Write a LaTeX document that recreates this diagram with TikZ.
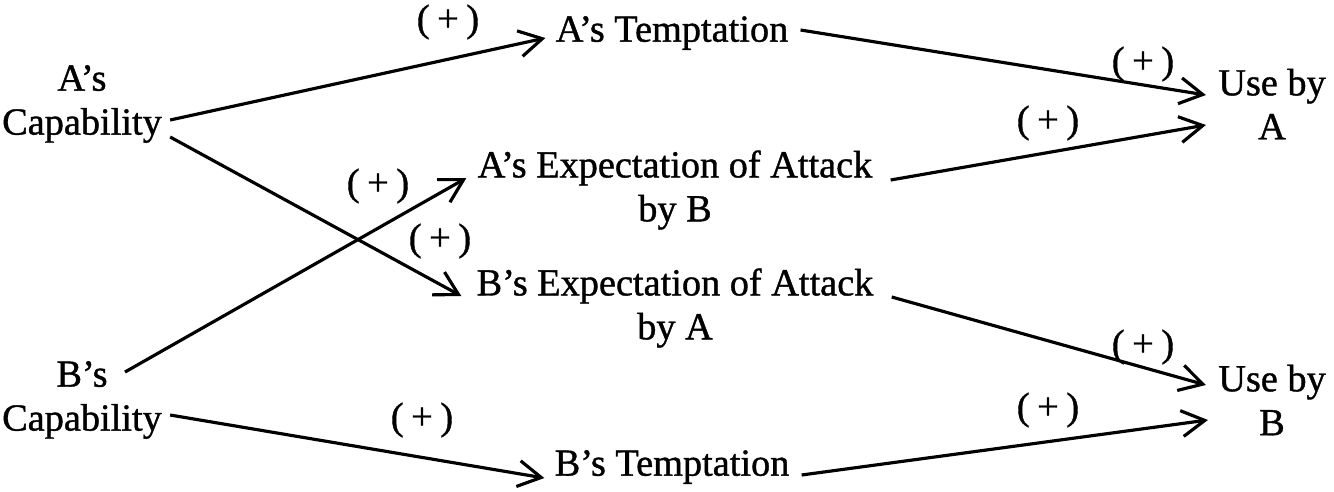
\documentclass[tikz,border=0pt]{standalone}
\usepackage{fontspec}
\setmainfont{Liberation Serif}[FakeBold=1]
\usepackage{tikz}
\usetikzlibrary{arrows.meta,calc}

\begin{document}
\begin{tikzpicture}[x=0.02cm, y=-0.02cm,
            >={Straight Barb[length=4.6mm, width=5.2mm]},
            VAR/.style={rectangle, draw=none, inner sep=0pt, align=center, font=\fontsize{21.8}{25}\selectfont},
            SIGN/.style={rectangle, draw=none, inner sep=0pt, font=\fontsize{21.8}{25}\selectfont},
            LINK/.style={->, line width=1.8pt},
        ]
        \useasboundingbox (0,0) rectangle (1334,491);

        \node[VAR]    (A_Cap)    at (82,104)   {A's\\Capability};
        \node[VAR]    (B_Cap)    at (82,400)   {B's\\Capability};
        \node[VAR]    (A_Temp)   at (672,33)   {A's Temptation};
        \node[VAR]    (A_Exp)    at (675,190)  {A's Expectation of Attack\\by B};
        \node[VAR]    (B_Exp)    at (675,308)  {B's Expectation of Attack\\by A};
        \node[VAR]    (B_Temp)   at (672,467)  {B's Temptation};
        \node[VAR]    (Use_A)    at (1272,104) {Use by\\A};
        \node[VAR]    (Use_B)    at (1272,400) {Use by\\B};

        \draw[LINK] ($(A_Cap.east)+(8,16)$)   -- ($(A_Temp.west)+(-10,5)$);
        \draw[LINK] ($(A_Cap.east)+(8,33)$)   -- ($(B_Exp.west)+(-15,-12)$);
        \draw[LINK] ($(B_Cap.center)+(43,-28)$) -- ($(A_Exp.west)+(-11,-12)$);
        \draw[LINK] ($(B_Cap.east)+(8,15)$)   -- ($(B_Temp.west)+(-10,11)$);
        \draw[LINK] ($(A_Temp.east)+(12,-3)$) -- ($(Use_A.west)+(-12,-9)$);
        \draw[LINK] ($(A_Exp.east)+(18,-10)$) -- ($(Use_A.west)+(-12,21)$);
        \draw[LINK] ($(B_Exp.east)+(18,-11)$) -- ($(Use_B.west)+(-12,-15)$);
        \draw[LINK] ($(B_Temp.east)+(12,8)$)  -- ($(Use_B.west)+(-10,20)$);

        \node[SIGN] (S_1) at (448,22)   {(\hspace{0.2em}+\hspace{0.2em})};
        \node[SIGN] (S_2) at (440,241)  {(\hspace{0.2em}+\hspace{0.2em})};
        \node[SIGN] (S_3) at (378,186)  {(\hspace{0.2em}+\hspace{0.2em})};
        \node[SIGN] (S_4) at (422,420)  {(\hspace{0.2em}+\hspace{0.2em})};
        \node[SIGN] (S_5) at (1143,64)  {(\hspace{0.2em}+\hspace{0.2em})};
        \node[SIGN] (S_6) at (1048,123) {(\hspace{0.2em}+\hspace{0.2em})};
        \node[SIGN] (S_7) at (1143,347) {(\hspace{0.2em}+\hspace{0.2em})};
        \node[SIGN] (S_8) at (1048,410) {(\hspace{0.2em}+\hspace{0.2em})};

    \end{tikzpicture}
\end{document}
